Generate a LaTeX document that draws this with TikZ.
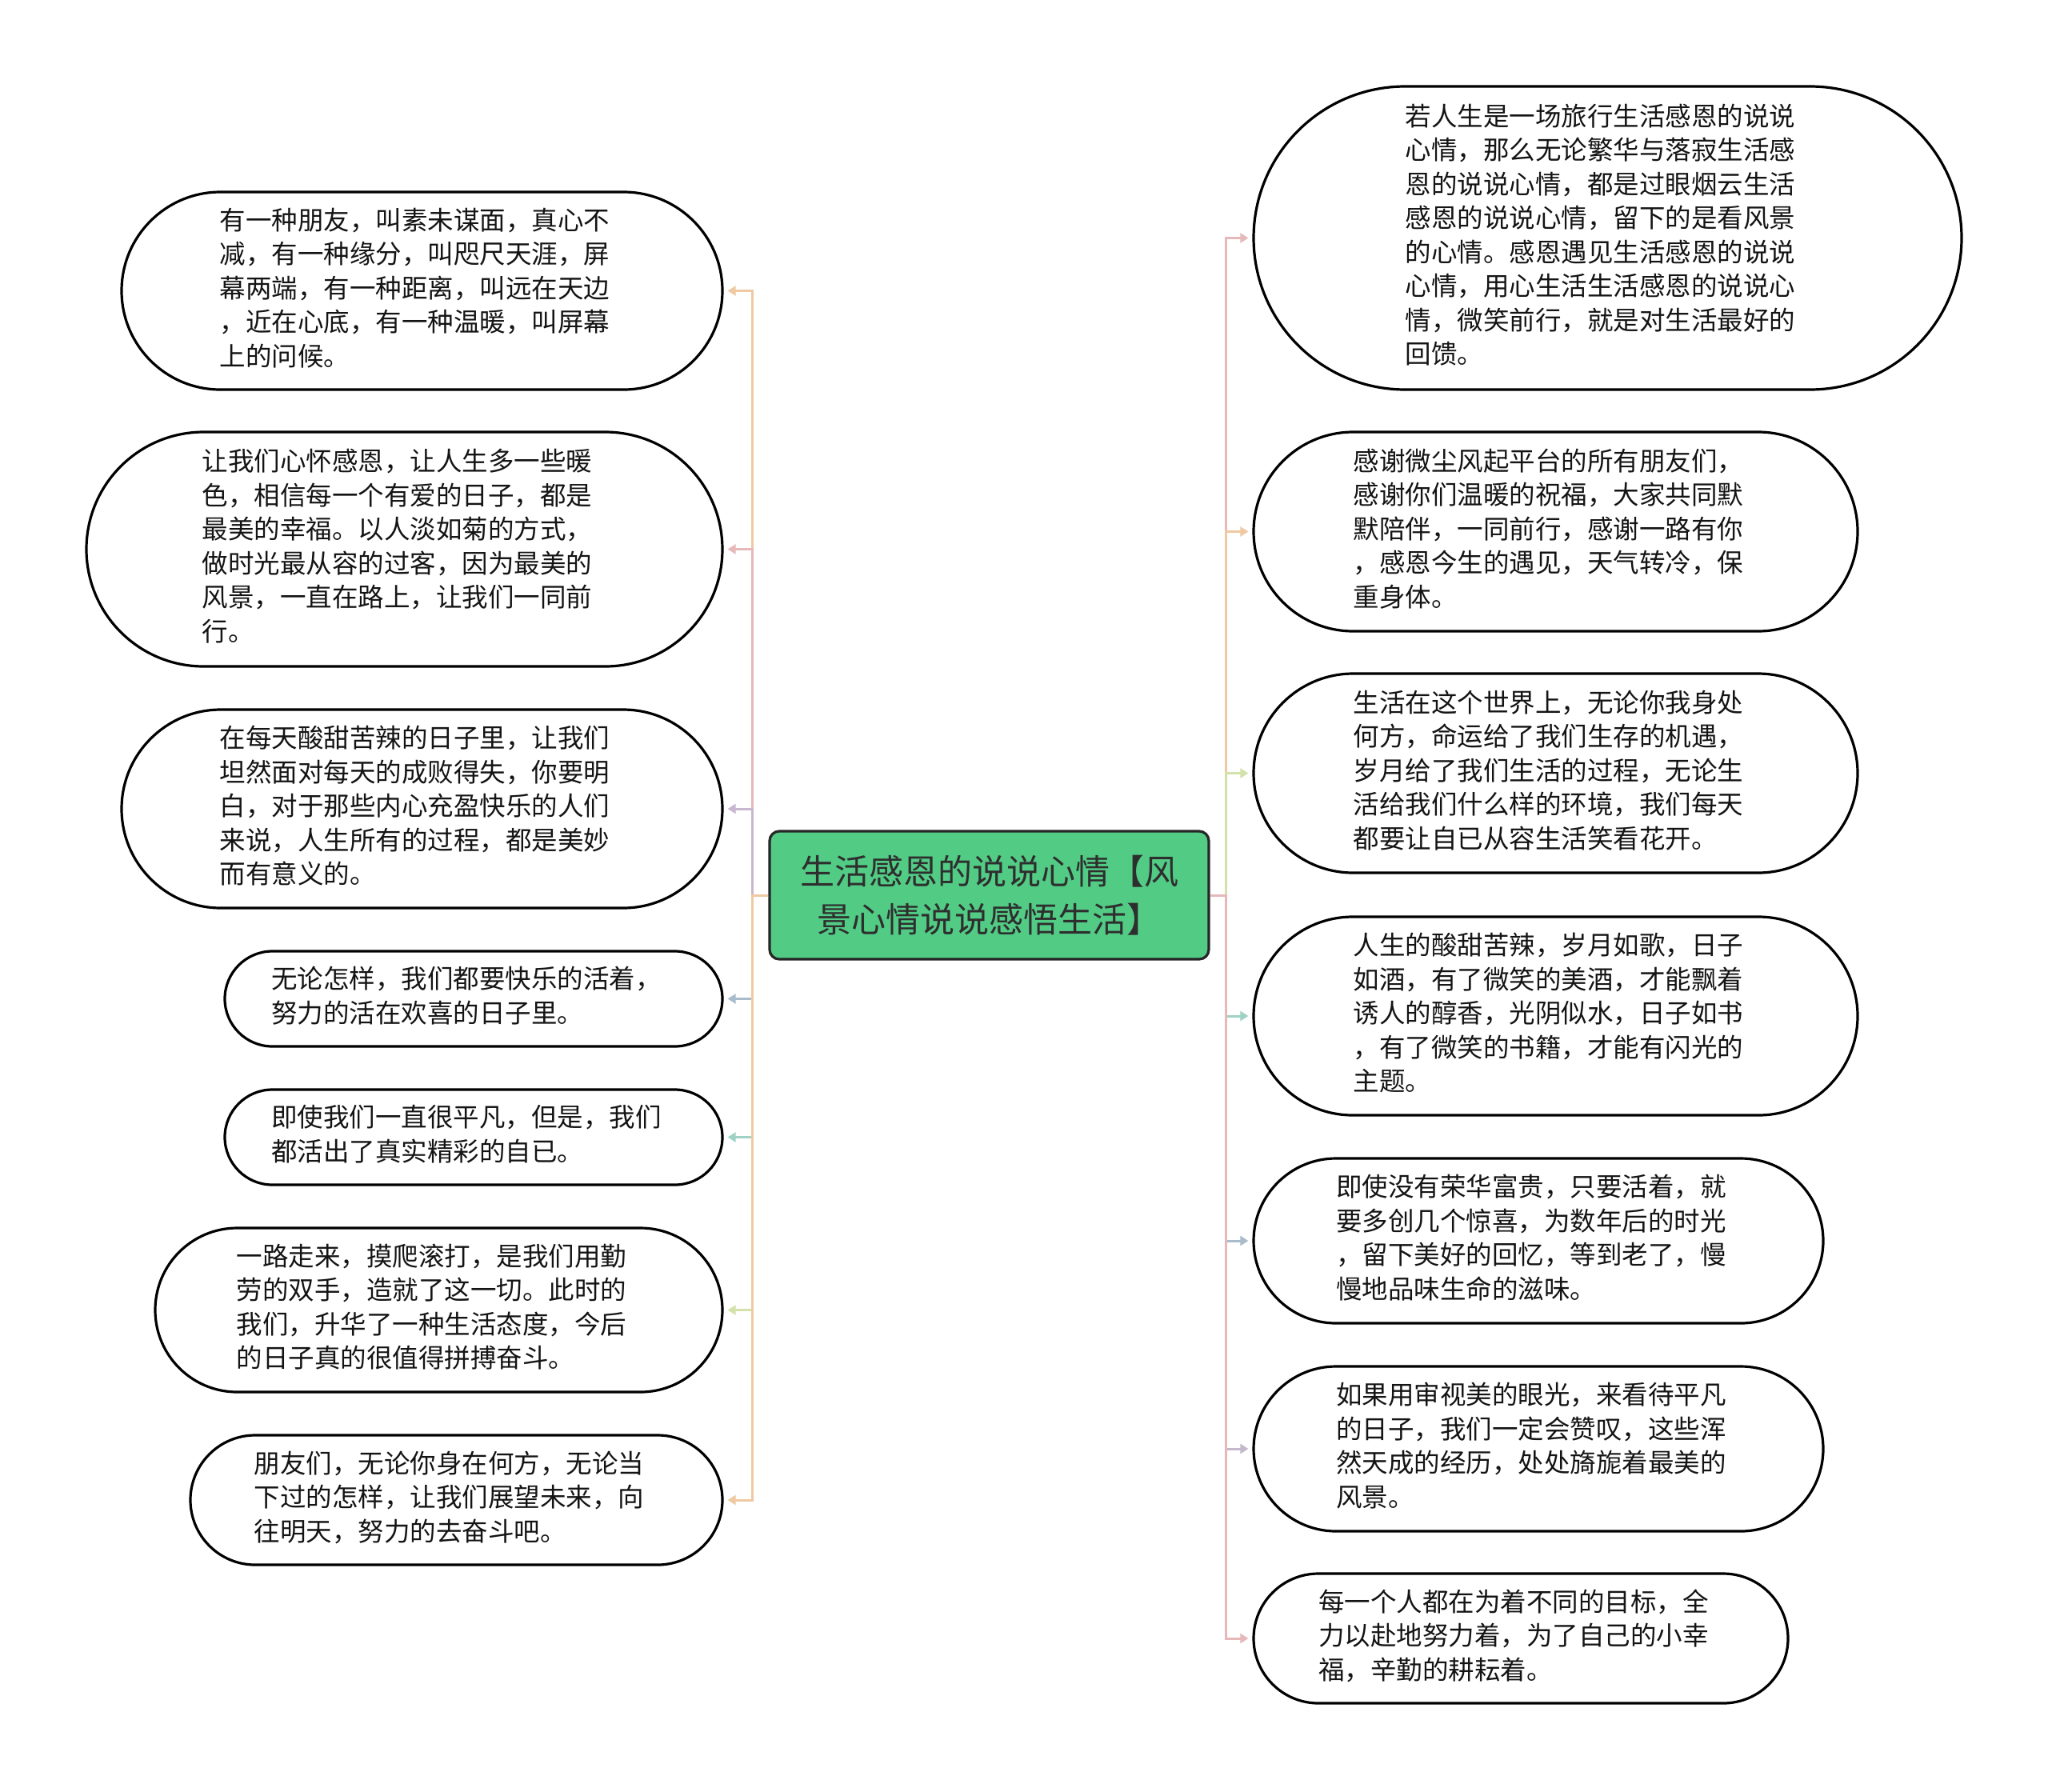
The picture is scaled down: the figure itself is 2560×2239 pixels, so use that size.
\documentclass[tikz,border=0pt]{standalone}
\usepackage{fontspec}
\setmainfont{Noto Sans CJK SC}
\usetikzlibrary{arrows.meta,shapes.misc}
\definecolor{cPeach}{HTML}{EFC9A2}
\definecolor{cPink}{HTML}{E6B8BA}
\definecolor{cLav}{HTML}{C9B7CF}
\definecolor{cBlue}{HTML}{A9BCCB}
\definecolor{cTeal}{HTML}{9FD2C4}
\definecolor{cGreen}{HTML}{D2E2A8}
\definecolor{cLavG}{HTML}{C4B9CC}
\definecolor{rootfill}{HTML}{52CC85}
\newcommand{\leaftext}[1]{\begin{tabular}{@{}l@{\hspace{9pt}}}#1\end{tabular}}
\begin{document}
\begin{tikzpicture}[x=0.5pt,y=-0.5pt,
  leaf/.style={rounded rectangle, draw=black, line width=1.6pt, fill=white,
    inner sep=0pt, text=black!92, font=\fontsize{16.25pt}{21.25pt}\selectfont},
  root/.style={rectangle, rounded corners=6pt, draw=black!85, line width=1.6pt,
    fill=rootfill, inner sep=0pt, text=black!82, align=center,
    minimum width=274.5pt, minimum height=80pt,
    font=\fontsize{21.5pt}{30pt}\selectfont},
  conn/.style={line width=1.5pt, -{Triangle[length=5pt,width=6pt]}, shorten >=2.5pt}]
\useasboundingbox (0,0) rectangle (2560,2239);
\fill[white] (0,0) rectangle (2560,2239);

\node[root] (C) at (1236.5,1119) {生活感恩的说说心情【风\\景心情说说感悟生活】};

% left
\node[leaf, minimum width=375.5pt, minimum height=123.5pt] (L1) at (527.5,363.5)
 {\leaftext{有一种朋友，叫素未谋面，真心不\\减，有一种缘分，叫咫尺天涯，屏\\幕两端，有一种距离，叫远在天边\\，近在心底，有一种温暖，叫屏幕\\上的问候。}};
\node[leaf, minimum width=397.5pt, minimum height=146.5pt] (L2) at (505.5,686.5)
 {\leaftext{让我们心怀感恩，让人生多一些暖\\色，相信每一个有爱的日子，都是\\最美的幸福。以人淡如菊的方式，\\做时光最从容的过客，因为最美的\\风景，一直在路上，让我们一同前\\行。}};
\node[leaf, minimum width=375.5pt, minimum height=124pt] (L3) at (527.5,1011)
 {\leaftext{在每天酸甜苦辣的日子里，让我们\\坦然面对每天的成败得失，你要明\\白，对于那些内心充盈快乐的人们\\来说，人生所有的过程，都是美妙\\而有意义的。}};
\node[leaf, minimum width=311pt, minimum height=59.5pt] (L4) at (592,1248.5)
 {\leaftext{无论怎样，我们都要快乐的活着，\\努力的活在欢喜的日子里。}};
\node[leaf, minimum width=311pt, minimum height=59.5pt] (L5) at (592,1421.5)
 {\leaftext{即使我们一直很平凡，但是，我们\\都活出了真实精彩的自已。}};
\node[leaf, minimum width=354.5pt, minimum height=102.5pt] (L6) at (548.5,1637.5)
 {\leaftext{一路走来，摸爬滚打，是我们用勤\\劳的双手，造就了这一切。此时的\\我们，升华了一种生活态度，今后\\的日子真的很值得拼搏奋斗。}};
\node[leaf, minimum width=332.5pt, minimum height=81pt] (L7) at (570.5,1875)
 {\leaftext{朋友们，无论你身在何方，无论当\\下过的怎样，让我们展望未来，向\\往明天，努力的去奋斗吧。}};

% right
\node[leaf, minimum width=442.5pt, minimum height=189.5pt] (R1) at (2009.5,297.5)
 {\leaftext{若人生是一场旅行生活感恩的说说\\心情，那么无论繁华与落寂生活感\\恩的说说心情，都是过眼烟云生活\\感恩的说说心情，留下的是看风景\\的心情。感恩遇见生活感恩的说说\\心情，用心生活生活感恩的说说心\\情，微笑前行，就是对生活最好的\\回馈。}};
\node[leaf, minimum width=377.5pt, minimum height=124.5pt] (R2) at (1944.5,664.5)
 {\leaftext{感谢微尘风起平台的所有朋友们，\\感谢你们温暖的祝福，大家共同默\\默陪伴，一同前行，感谢一路有你\\，感恩今生的遇见，天气转冷，保\\重身体。}};
\node[leaf, minimum width=377.5pt, minimum height=124.5pt] (R3) at (1944.5,966.5)
 {\leaftext{生活在这个世界上，无论你我身处\\何方，命运给了我们生存的机遇，\\岁月给了我们生活的过程，无论生\\活给我们什么样的环境，我们每天\\都要让自已从容生活笑看花开。}};
\node[leaf, minimum width=377.5pt, minimum height=124pt] (R4) at (1944.5,1270)
 {\leaftext{人生的酸甜苦辣，岁月如歌，日子\\如酒，有了微笑的美酒，才能飘着\\诱人的醇香，光阴似水，日子如书\\，有了微笑的书籍，才能有闪光的\\主题。}};
\node[leaf, minimum width=356pt, minimum height=103pt] (R5) at (1923,1551)
 {\leaftext{即使没有荣华富贵，只要活着，就\\要多创几个惊喜，为数年后的时光\\，留下美好的回忆，等到老了，慢\\慢地品味生命的滋味。}};
\node[leaf, minimum width=356pt, minimum height=103pt] (R6) at (1923,1811)
 {\leaftext{如果用审视美的眼光，来看待平凡\\的日子，我们一定会赞叹，这些浑\\然天成的经历，处处旖旎着最美的\\风景。}};
\node[leaf, minimum width=334pt, minimum height=81pt] (R7) at (1901,2048)
 {\leaftext{每一个人都在为着不同的目标，全\\力以赴地努力着，为了自己的小幸\\福，辛勤的耕耘着。}};

% connectors left
\draw[conn, cPeach] (C.west) -- ++(-20,0) |- (L1.east);
\draw[conn, cPink]  (C.west) -- ++(-20,0) |- (L2.east);
\draw[conn, cLav]   (C.west) -- ++(-20,0) |- (L3.east);
\draw[conn, cBlue]  (C.west) -- ++(-20,0) |- (L4.east);
\draw[conn, cTeal]  (C.west) -- ++(-20,0) |- (L5.east);
\draw[conn, cGreen] (C.west) -- ++(-20,0) |- (L6.east);
\draw[conn, cPeach] (C.west) -- ++(-20,0) |- (L7.east);
% connectors right
\draw[conn, cPink]  (C.east) -- ++(20,0) |- (R1.west);
\draw[conn, cPeach] (C.east) -- ++(20,0) |- (R2.west);
\draw[conn, cGreen] (C.east) -- ++(20,0) |- (R3.west);
\draw[conn, cTeal]  (C.east) -- ++(20,0) |- (R4.west);
\draw[conn, cBlue]  (C.east) -- ++(20,0) |- (R5.west);
\draw[conn, cLavG]  (C.east) -- ++(20,0) |- (R6.west);
\draw[conn, cPink]  (C.east) -- ++(20,0) |- (R7.west);
\end{tikzpicture}
\end{document}
